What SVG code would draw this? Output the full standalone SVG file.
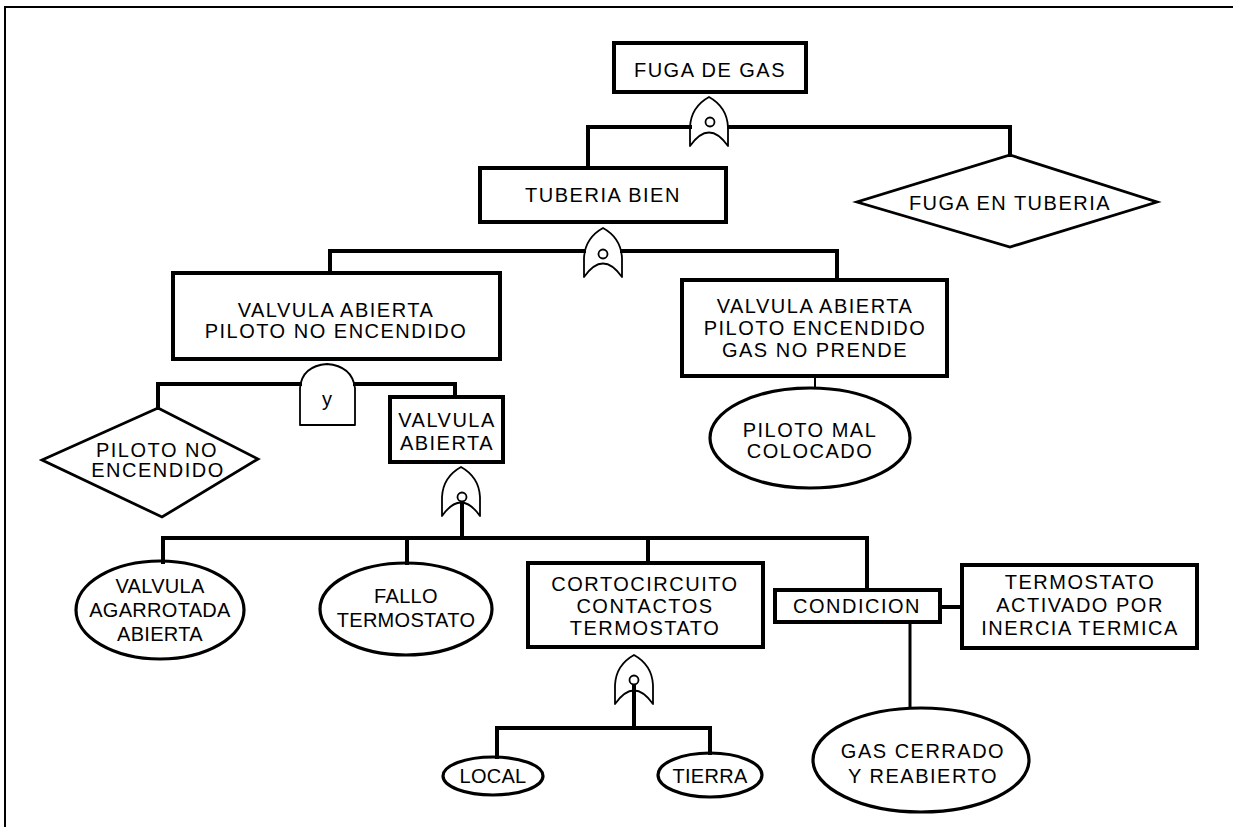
<svg xmlns="http://www.w3.org/2000/svg" xmlns:xlink="http://www.w3.org/1999/xlink" width="1233" height="827" viewBox="0 0 1233 827">
  <style>
    .box { fill: #fff; stroke: #000; stroke-width: 4; }
    .ell { fill: #fff; stroke: #000; stroke-width: 3.2; }
    .dia { fill: #fff; stroke: #000; stroke-width: 2.8; stroke-linejoin: miter; }
    .gate { fill: #fff; stroke: #000; stroke-width: 1.8; stroke-linejoin: round; }
    .dot { fill: #fff; stroke: #000; stroke-width: 1.8; }
    .wire { fill: none; stroke: #000; stroke-width: 4; stroke-linejoin: miter; stroke-linecap: square; }
    .thin { fill: none; stroke: #000; stroke-width: 2; }
    text { font-family: "Liberation Sans", Arial, Helvetica, sans-serif; font-size: 20px; fill: #000; text-anchor: middle; letter-spacing: 1.5px; }
    .tight { letter-spacing: 0.3px; }
  </style>
  <defs>
    <!-- OR gate outline, apex at origin -->
    <path id="orGate" class="gate" d="M0,0 Q-18,10 -19,30 L-19,49 Q0,22 19,49 L19,30 Q18,10 0,0 Z"/>
  </defs>

  <rect width="1233" height="827" fill="#fff"/>
  <!-- page frame -->
  <path d="M5,827 L5,7 L1233,7" fill="none" stroke="#000" stroke-width="2"/>

  <g id="nodes">
    <g id="fuga-gas">
      <rect class="box" x="614" y="43" width="192" height="49"/>
      <text x="710" y="77">FUGA DE GAS</text>
    </g>
    <g id="gate-or-1">
      <use xlink:href="#orGate" href="#orGate" transform="translate(709,97)"/>
      <circle class="dot" cx="710" cy="122" r="4.5"/>
    </g>
    <g id="tuberia-bien">
      <rect class="box" x="480" y="168" width="246" height="54"/>
      <text x="603" y="202">TUBERIA BIEN</text>
    </g>
    <g id="fuga-tuberia">
      <polygon class="dia" points="1010,155 1157,202 1010,247 857,202"/>
      <text x="1010" y="210">FUGA EN TUBERIA</text>
    </g>
    <g id="gate-or-2">
      <use xlink:href="#orGate" href="#orGate" transform="translate(603,228)"/>
      <circle class="dot" cx="603" cy="254" r="4.5"/>
    </g>
    <g id="valvula-piloto-no">
      <rect class="box" x="173" y="273" width="327" height="86"/>
      <text x="336" y="317">VALVULA ABIERTA</text>
      <text x="336" y="338">PILOTO NO ENCENDIDO</text>
    </g>
    <g id="valvula-piloto-si">
      <rect class="box" x="682" y="280" width="265" height="96"/>
      <text x="815" y="313">VALVULA ABIERTA</text>
      <text x="815" y="335">PILOTO ENCENDIDO</text>
      <text x="815" y="357">GAS NO PRENDE</text>
    </g>
    <g id="piloto-mal">
      <ellipse class="ell" cx="810" cy="438" rx="100" ry="50"/>
      <text x="810" y="437">PILOTO MAL</text>
      <text x="810" y="458">COLOCADO</text>
    </g>
    <g id="gate-and">
      <path class="gate" d="M300,425 L300,388 Q302,366 327,364 Q352,366 355,388 L355,425 Z"/>
      <text x="327" y="406" style="font-size:20px;letter-spacing:0">y</text>
    </g>
    <g id="piloto-no">
      <polygon class="dia" points="158,408 258,459 162,517 42,460"/>
      <text x="157" y="457">PILOTO NO</text>
      <text x="158" y="477">ENCENDIDO</text>
    </g>
    <g id="valvula-abierta">
      <rect class="box" x="390" y="397" width="113" height="65"/>
      <text x="447" y="427">VALVULA</text>
      <text x="447" y="450">ABIERTA</text>
    </g>
    <g id="gate-or-3">
      <use xlink:href="#orGate" href="#orGate" transform="translate(461,467)"/>
      <circle class="dot" cx="462" cy="497" r="4.5"/>
    </g>
    <g id="valvula-agarrotada">
      <ellipse class="ell" cx="160" cy="610" rx="84" ry="49"/>
      <text class="tight" x="160" y="593">VALVULA</text>
      <text class="tight" x="160" y="617">AGARROTADA</text>
      <text class="tight" x="160" y="641">ABIERTA</text>
    </g>
    <g id="fallo-termostato">
      <ellipse class="ell" cx="406" cy="609" rx="86" ry="46"/>
      <text class="tight" x="406" y="603">FALLO</text>
      <text class="tight" x="406" y="627">TERMOSTATO</text>
    </g>
    <g id="cortocircuito">
      <rect class="box" x="528" y="563" width="235" height="84"/>
      <text x="645" y="591">CORTOCIRCUITO</text>
      <text x="645" y="613">CONTACTOS</text>
      <text x="645" y="635">TERMOSTATO</text>
    </g>
    <g id="gate-or-4">
      <use xlink:href="#orGate" href="#orGate" transform="translate(634,655)"/>
      <circle class="dot" cx="634" cy="680" r="4.5"/>
    </g>
    <g id="local">
      <ellipse class="ell" cx="493" cy="776" rx="50" ry="19"/>
      <text class="tight" x="493" y="783">LOCAL</text>
    </g>
    <g id="tierra">
      <ellipse class="ell" cx="710" cy="775" rx="52" ry="22"/>
      <text class="tight" x="710" y="783">TIERRA</text>
    </g>
    <g id="condicion">
      <rect class="box" x="775" y="590" width="165" height="32"/>
      <text x="857" y="613">CONDICION</text>
    </g>
    <g id="termostato-inercia">
      <rect class="box" x="962" y="565" width="235" height="83"/>
      <text x="1080" y="589">TERMOSTATO</text>
      <text x="1080" y="612">ACTIVADO POR</text>
      <text x="1080" y="635">INERCIA TERMICA</text>
    </g>
    <g id="gas-cerrado">
      <ellipse class="ell" cx="921" cy="760" rx="108" ry="52"/>
      <text x="923" y="758">GAS CERRADO</text>
      <text x="923" y="783">Y REABIERTO</text>
    </g>
  </g>

  <g id="connectors">
    <path class="wire" d="M588,168 L588,127 L690,127"/>
    <path class="wire" d="M729,127 L1010,127 L1010,155"/>
    <path class="wire" d="M330,273 L330,251 L584,251"/>
    <path class="wire" d="M622,251 L837,251 L837,280"/>
    <path class="thin" d="M815,378 L815,388"/>
    <path class="wire" d="M158,408 L158,384 L300,384"/>
    <path class="wire" d="M355,384 L455,384 L455,397"/>
    <path class="wire" d="M462,503 L462,538"/>
    <path class="wire" d="M163,562 L163,538 L867,538 L867,590"/>
    <path class="wire" d="M407,538 L407,563"/>
    <path class="wire" d="M648,538 L648,563"/>
    <path class="wire" d="M634,686 L634,728"/>
    <path class="wire" d="M497,757 L497,728 L710,728 L710,753"/>
    <path class="wire" d="M940,607 L962,607"/>
    <path class="thin" d="M910,624 L910,708" style="stroke-width:3"/>
  </g>
</svg>
